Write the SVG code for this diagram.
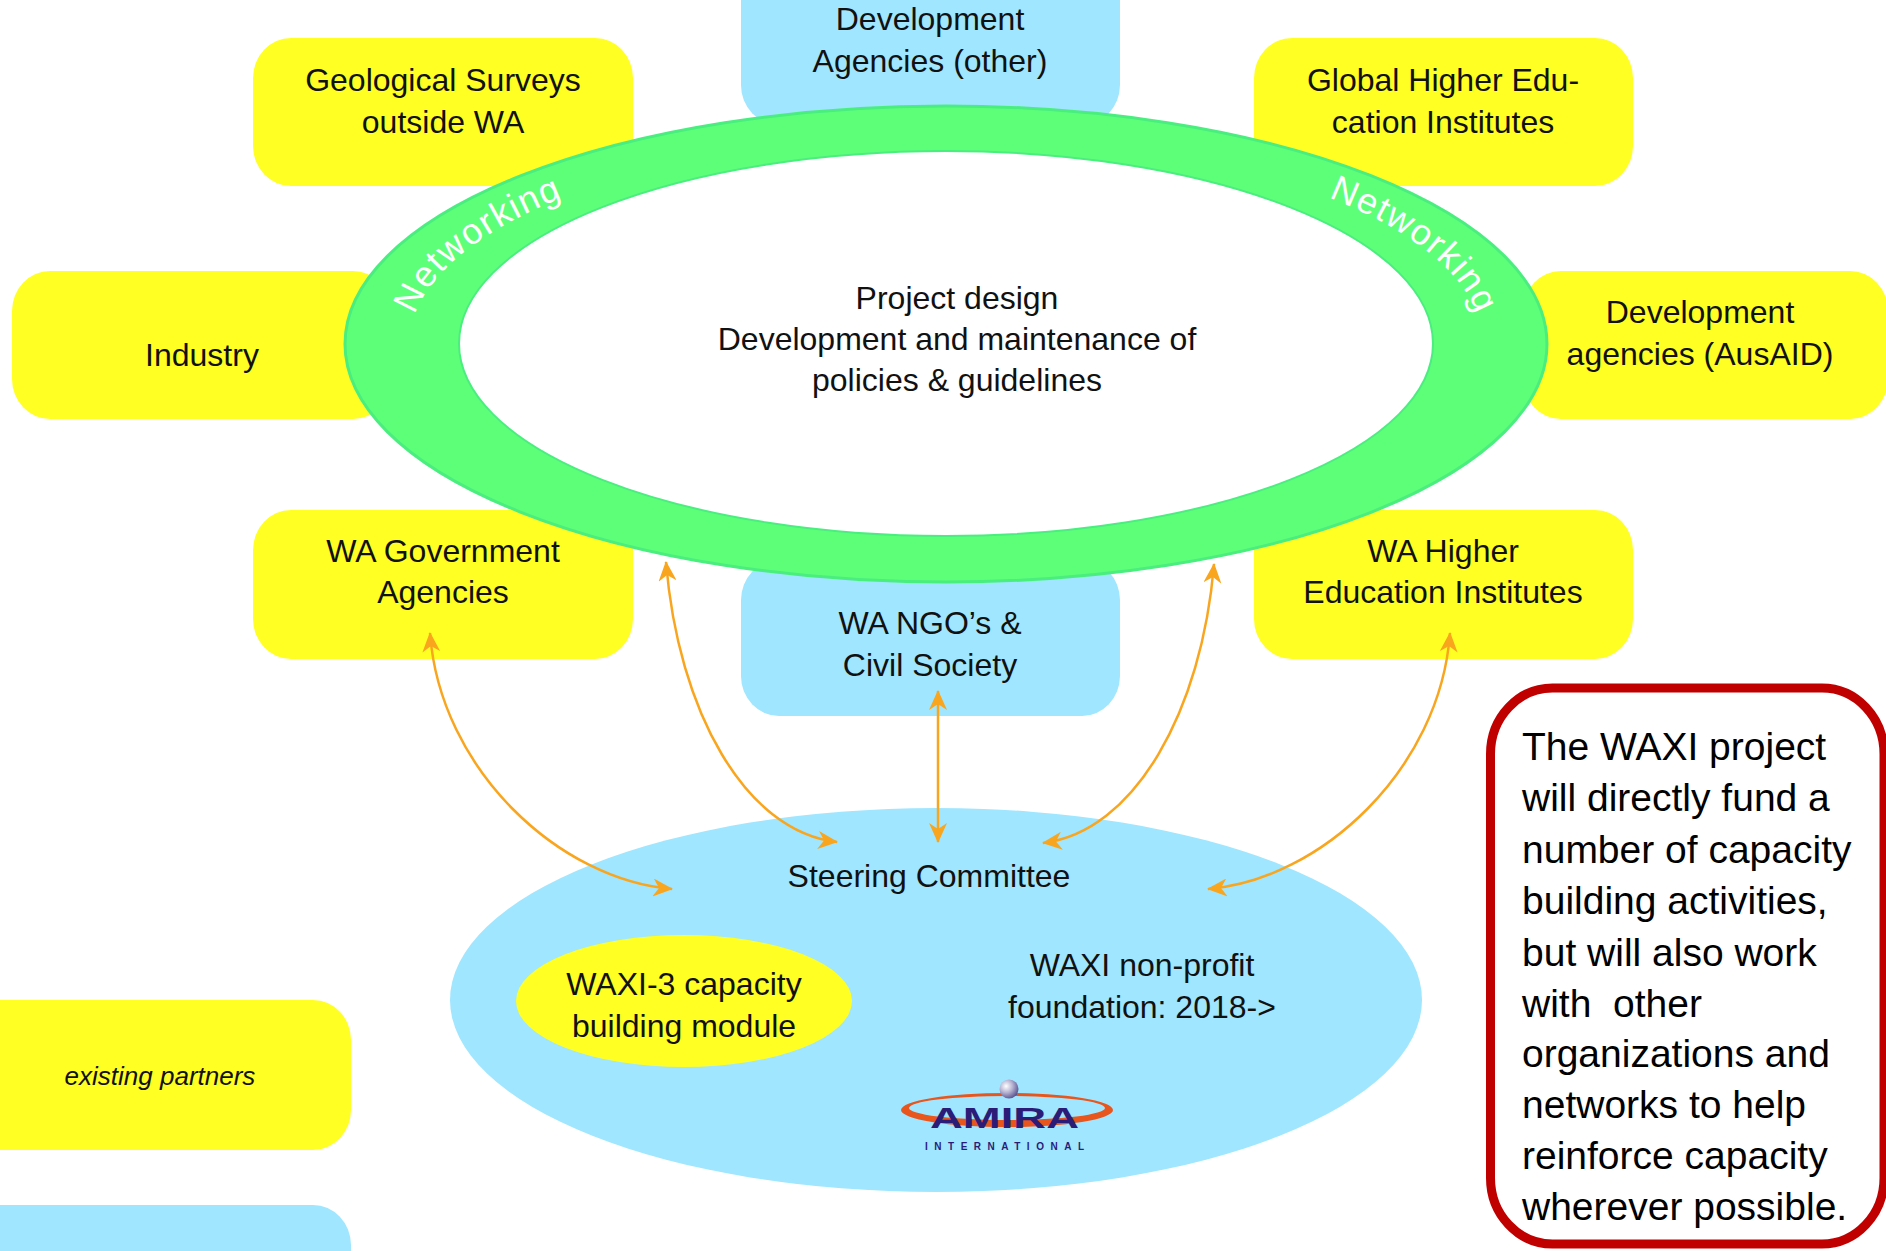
<svg xmlns="http://www.w3.org/2000/svg" width="1886" height="1251" viewBox="0 0 1886 1251">
<style>
.lbl{font-family:"Liberation Sans",Arial,sans-serif;font-size:32px;fill:#111;text-anchor:middle}
.y{fill:#FFFF23}
.b{fill:#A0E6FF}
.con{fill:none;stroke:#F9A51E;stroke-width:2.5;marker-start:url(#ah);marker-end:url(#ah)}
.net{font-family:"Liberation Sans",Arial,sans-serif;font-size:36px;fill:#fff;letter-spacing:1.5px;text-anchor:middle}
.call{font-family:"Liberation Sans",Arial,sans-serif;font-size:39px;fill:#000}
</style>
<defs>
<marker id="ah" viewBox="0 0 20 18" refX="19" refY="9" markerWidth="20" markerHeight="18" orient="auto-start-reverse" markerUnits="userSpaceOnUse">
<path d="M0,0 L20,9 L0,18 L6,9 z" fill="#F9A51E"/>
</marker>
<path id="netpath" d="M410,343 A536,208 0 0 1 1482,343 A536,208 0 0 1 410,343"/>
<radialGradient id="sph" cx="0.35" cy="0.35" r="0.7">
<stop offset="0" stop-color="#ffffff"/>
<stop offset="0.5" stop-color="#b4b0d0"/>
<stop offset="1" stop-color="#5a5290"/>
</radialGradient>
</defs>
<rect width="1886" height="1251" fill="#fff"/>

<g id="geological-surveys">
<rect class="y" x="253" y="38" width="380" height="148" rx="38" ry="40"/>
<text class="lbl" x="443" y="91">Geological Surveys</text>
<text class="lbl" x="443" y="133">outside WA</text>
</g>
<g id="dev-agencies-other">
<rect class="b" x="741" y="-40" width="379" height="165" rx="38" ry="40"/>
<text class="lbl" x="930" y="30">Development</text>
<text class="lbl" x="930" y="72">Agencies (other)</text>
</g>
<g id="global-higher-ed">
<rect class="y" x="1254" y="38" width="379" height="148" rx="38" ry="40"/>
<text class="lbl" x="1443" y="91">Global Higher Edu-</text>
<text class="lbl" x="1443" y="133">cation Institutes</text>
</g>
<g id="industry">
<rect class="y" x="12" y="271" width="379" height="148" rx="38" ry="40"/>
<text class="lbl" x="202" y="366">Industry</text>
</g>
<g id="dev-agencies-ausaid">
<rect class="y" x="1523" y="271" width="365" height="148" rx="38" ry="40"/>
<text class="lbl" x="1700" y="323">Development</text>
<text class="lbl" x="1700" y="365">agencies (AusAID)</text>
</g>
<g id="wa-government">
<rect class="y" x="253" y="510" width="380" height="149" rx="38" ry="40"/>
<text class="lbl" x="443" y="562">WA Government</text>
<text class="lbl" x="443" y="603">Agencies</text>
</g>
<g id="wa-higher-ed">
<rect class="y" x="1254" y="510" width="379" height="149" rx="38" ry="40"/>
<text class="lbl" x="1443" y="562">WA Higher</text>
<text class="lbl" x="1443" y="603">Education Institutes</text>
</g>
<g id="wa-ngos">
<rect class="b" x="741" y="560" width="379" height="156" rx="38" ry="40"/>
<text class="lbl" x="930" y="634">WA NGO’s &amp;</text>
<text class="lbl" x="930" y="676">Civil Society</text>
</g>

<g id="networking-ring">
<ellipse cx="946" cy="344" rx="601" ry="238" fill="#5EFF78" stroke="#4AEE7F" stroke-width="3"/>
<ellipse cx="946" cy="343.5" rx="487" ry="192.5" fill="#fff" stroke="#4AEE7F" stroke-width="2"/>
<text class="net"><textPath href="#netpath" startOffset="126">Networking</textPath></text>
<text class="net"><textPath href="#netpath" startOffset="1100">Networking</textPath></text>
<text class="lbl" x="957" y="309">Project design</text>
<text class="lbl" x="957" y="350">Development and maintenance of</text>
<text class="lbl" x="957" y="391">policies &amp; guidelines</text>
</g>

<g id="steering-committee">
<ellipse class="b" cx="936" cy="1000" rx="486" ry="192"/>
<text class="lbl" x="929" y="887">Steering Committee</text>
<text class="lbl" x="1142" y="976">WAXI non-profit</text>
<text class="lbl" x="1142" y="1018">foundation: 2018-&gt;</text>
</g>
<g id="waxi3-module">
<ellipse class="y" cx="684" cy="1001" rx="168" ry="66"/>
<text class="lbl" x="684" y="995">WAXI-3 capacity</text>
<text class="lbl" x="684" y="1037">building module</text>
</g>
<g id="amira-logo">
<path d="M901,1110 A106,17 0 1 1 1113,1110 A106,17 0 1 1 901,1110 Z M909,1108 A98,12 0 1 0 1105,1108 A98,12 0 1 0 909,1108 Z" fill="#E8561E" fill-rule="evenodd"/>
<circle cx="1009" cy="1089" r="9.5" fill="url(#sph)"/>
<text x="930" y="1128" textLength="149" lengthAdjust="spacingAndGlyphs" font-family="'Liberation Sans',Arial,sans-serif" font-weight="bold" font-size="30" fill="#2B1C78">AMIRA</text>
<text x="925" y="1150" textLength="159" lengthAdjust="spacing" font-family="'Liberation Sans',Arial,sans-serif" font-size="10" font-weight="bold" fill="#2B1C78">INTERNATIONAL</text>
</g>

<g id="legend-existing-partners">
<rect class="y" x="-40" y="1000" width="391" height="150" rx="38" ry="40"/>
<text x="160" y="1085" font-family="'Liberation Sans',Arial,sans-serif" font-size="26" font-style="italic" fill="#111" text-anchor="middle">existing partners</text>
</g>
<g id="legend-blue">
<rect class="b" x="-40" y="1205" width="391" height="120" rx="38" ry="40"/>
</g>

<g id="callout">
<rect x="1490.5" y="688" width="393.5" height="556" rx="62" ry="66" fill="#fff" stroke="#C00000" stroke-width="9"/>
<text class="call" x="1522" y="760">The WAXI project</text>
<text class="call" x="1522" y="811">will directly fund a</text>
<text class="call" x="1522" y="863">number of capacity</text>
<text class="call" x="1522" y="914">building activities,</text>
<text class="call" x="1522" y="966">but will also work</text>
<text class="call" x="1522" y="1017" xml:space="preserve">with  other</text>
<text class="call" x="1522" y="1067">organizations and</text>
<text class="call" x="1522" y="1118">networks to help</text>
<text class="call" x="1522" y="1169">reinforce capacity</text>
<text class="call" x="1522" y="1220">wherever possible.</text>
</g>

<g id="connectors">
<path class="con" d="M430,633 C440,770 560,880 672,889"/>
<path class="con" d="M666,562 C678,710 745,832 837,842"/>
<path class="con" d="M938,691 L938,842"/>
<path class="con" d="M1214,564 C1202,710 1135,832 1043,843"/>
<path class="con" d="M1450,633 C1440,770 1320,880 1208,889"/>
</g>
</svg>
